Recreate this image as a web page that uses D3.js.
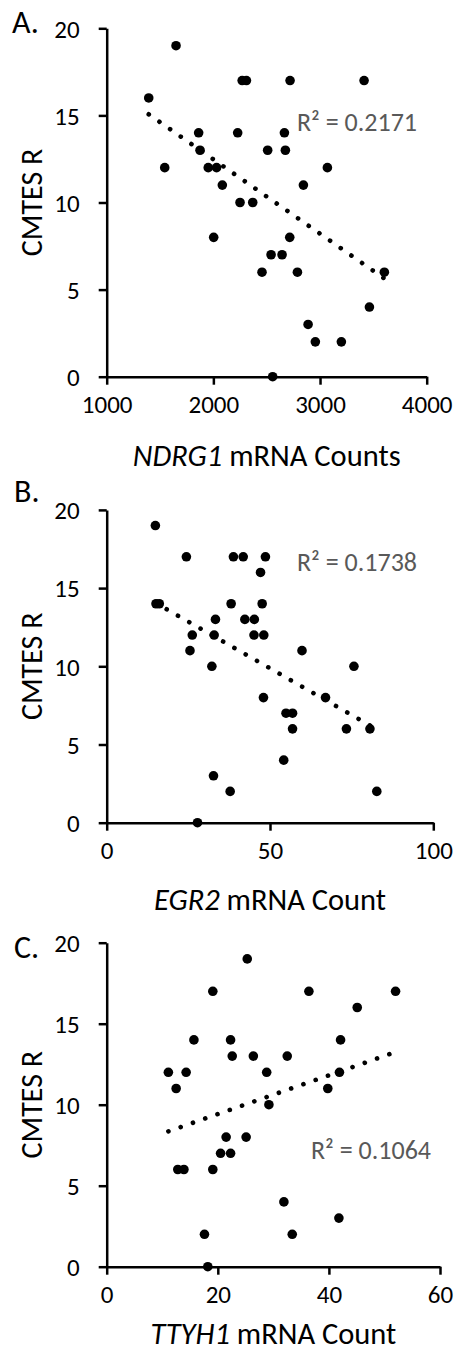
<!DOCTYPE html>
<html lang="en">
<head>
<meta charset="UTF-8">
<title>CMTES R vs mRNA counts</title>
<style>
  * { margin: 0; padding: 0; }
  body { background: #fff; }
  svg { display: block; font-family: Carlito, Lato, "Liberation Sans", sans-serif; }
</style>
</head>
<body>
<div id="chart"></div>
<script src="https://cdn.jsdelivr.net/npm/d3@7"></script>
<script>
// A. NDRG1 mRNA counts vs CMTES R
const ndrg1X = [1650, 1394, 2270, 2310, 2719, 3413, 1862, 2228, 2666, 1875, 2509, 2675, 1544, 1952, 2030, 3069,
    2084, 2844, 2250, 2369, 2003, 2541, 2644, 2716, 2456, 2788, 3603, 3463, 2888, 2956, 3200, 2556]
const ndrg1Y = [19, 16, 17, 17, 17, 17, 14, 14, 14, 13, 13, 13, 12, 12, 12, 12,
    11, 11, 10, 10, 8, 7, 7, 8, 6, 6, 6, 4, 3, 2, 2, 0]

// B. EGR2
const egr2X = [14.9, 24.4, 38.8, 41.8, 48.6, 47.1, 15.1, 16.1, 38.1, 47.6, 33.3, 42.3, 45.2, 26.2, 32.9, 45.1, 48.1,
    25.5, 59.8, 32.2, 75.7, 48.0, 67.0, 54.9, 56.9, 56.9, 73.4, 80.6, 54.2, 32.7, 37.8, 82.7, 27.8]
const egr2Y = [19, 17, 17, 17, 17, 16, 14, 14, 14, 14, 13, 13, 13, 12, 12, 12, 12,
    11, 11, 10, 10, 8, 8, 7, 7, 6, 6, 6, 4, 3, 2, 2, 0]

// C. TTYH1
const ttyh1X = [25.3, 19.1, 36.4, 52.0, 45.1, 15.7, 22.3, 42.1, 22.6, 26.4, 32.5, 11.1, 14.3, 28.8, 41.9,
    12.5, 39.8, 29.2, 21.5, 25.1, 20.5, 22.3, 12.8, 13.9, 19.1, 31.9, 41.8, 17.6, 33.4, 18.2]
const ttyh1Y = [19, 17, 17, 17, 16, 14, 14, 14, 13, 13, 13, 12, 12, 12, 12,
    11, 11, 10, 8, 8, 7, 7, 6, 6, 6, 4, 3, 2, 2, 0]

const yTicks = [0, 5, 10, 15, 20]
const ndrg1Ticks = [1000, 2000, 3000, 4000]
const egr2Ticks = [0, 50, 100]
const ttyh1Ticks = [0, 20, 40, 60]
const r2Labels = ['R² = 0.2171', 'R² = 0.1738', 'R² = 0.1064']

const width = 459
const height = 1357

const svg = d3.select('#chart')
    .append('svg')
    .attr('width', width)
    .attr('height', height)

// layout of each panel (pixel positions)
const panels = [
    { label: 'A.', gene: 'NDRG1', suffix: ' mRNA Counts', xs: ndrg1X, ys: ndrg1Y, xTicks: ndrg1Ticks, r2: r2Labels[0],
      left: 106.7, right: 426.7, top: 28.3, bottom: 376.7, labelX: 12, labelY: 21.7, titleY: 454.7, r2X: 297, r2Y: 122 },
    { label: 'B.', gene: 'EGR2', suffix: ' mRNA Count', xs: egr2X, ys: egr2Y, xTicks: egr2Ticks, r2: r2Labels[1],
      left: 106.7, right: 433.3, top: 509.9, bottom: 822.7, labelX: 14, labelY: 490, titleY: 899, r2X: 297, r2Y: 561.7 },
    { label: 'C.', gene: 'TTYH1', suffix: ' mRNA Count', xs: ttyh1X, ys: ttyh1Y, xTicks: ttyh1Ticks, r2: r2Labels[2],
      left: 106.7, right: 440, top: 942.7, bottom: 1266.7, labelX: 14, labelY: 946.7, titleY: 1333.3, r2X: 311, r2Y: 1149.3 }
]

panels.forEach(p => {
    const g = svg.append('g')

    const x = d3.scaleLinear()
        .domain(d3.extent(p.xTicks))
        .range([p.left, p.right])
    const y = d3.scaleLinear()
        .domain(d3.extent(yTicks))
        .range([p.bottom, p.top])

    // axes
    const yAxis = g.append('g')
        .attr('transform', `translate(${p.left},0)`)
        .call(d3.axisLeft(y).tickValues(yTicks).tickSize(8).tickSizeOuter(0).tickPadding(19))
    const xAxis = g.append('g')
        .attr('transform', `translate(0,${p.bottom})`)
        .call(d3.axisBottom(x).tickValues(p.xTicks).tickFormat(d3.format('d'))
            .tickSize(8).tickSizeOuter(0).tickPadding(19.5))

    ;[yAxis, xAxis].forEach(a => {
        a.attr('font-family', null).attr('font-size', null)
        a.select('.domain').attr('stroke', '#000').attr('stroke-width', 2.5)
        a.selectAll('.tick line').attr('stroke', '#000').attr('stroke-width', 2.5)
        a.selectAll('.tick text').attr('fill', '#000').style('font-size', '25px')
    })
    xAxis.selectAll('.tick text').attr('dy', '0.35em')
    yAxis.selectAll('.tick text').attr('dy', '0.35em')

    // linear trend line
    const mx = d3.mean(p.xs)
    const my = d3.mean(p.ys)
    const slope = d3.sum(p.xs, (d, i) => (d - mx) * (p.ys[i] - my)) / d3.sum(p.xs, d => (d - mx) ** 2)
    const icpt = my - slope * mx
    const [x0, x1] = d3.extent(p.xs)
    g.append('line')
        .attr('x1', x(x0))
        .attr('y1', y(icpt + slope * x0))
        .attr('x2', x(x1))
        .attr('y2', y(icpt + slope * x1))
        .attr('stroke', '#000')
        .attr('stroke-width', 4.6)
        .attr('stroke-linecap', 'round')
        .attr('stroke-dasharray', '0.1 12.9')

    // points
    g.append('g').selectAll('circle')
        .data(p.xs.map((d, i) => [d, p.ys[i]]))
        .join('circle')
        .attr('cx', d => x(d[0]))
        .attr('cy', d => y(d[1]))
        .attr('r', 4.8)
        .attr('fill', '#000')

    // texts
    g.append('text')
        .attr('x', p.labelX)
        .attr('y', p.labelY)
        .attr('dy', '0.36em')
        .text(p.label)
        .style('font-size', '32px')

    g.append('text')
        .attr('transform', `translate(31, ${(p.top + p.bottom) / 2}) rotate(-90)`)
        .attr('text-anchor', 'middle')
        .attr('dy', '0.36em')
        .text('CMTES R')
        .style('font-size', '30px')

    const title = g.append('text')
        .attr('x', (p.left + p.right) / 2)
        .attr('y', p.titleY)
        .attr('dy', '0.36em')
        .attr('text-anchor', 'middle')
        .style('font-size', '30.5px')
    title.append('tspan').style('font-style', 'italic').text(p.gene)
    title.append('tspan').text(p.suffix)

    g.append('text')
        .attr('x', p.r2X)
        .attr('y', p.r2Y)
        .attr('dy', '0.36em')
        .attr('fill', '#595959')
        .text(p.r2)
        .style('font-size', '26px')
})
</script>
</body>
</html>
